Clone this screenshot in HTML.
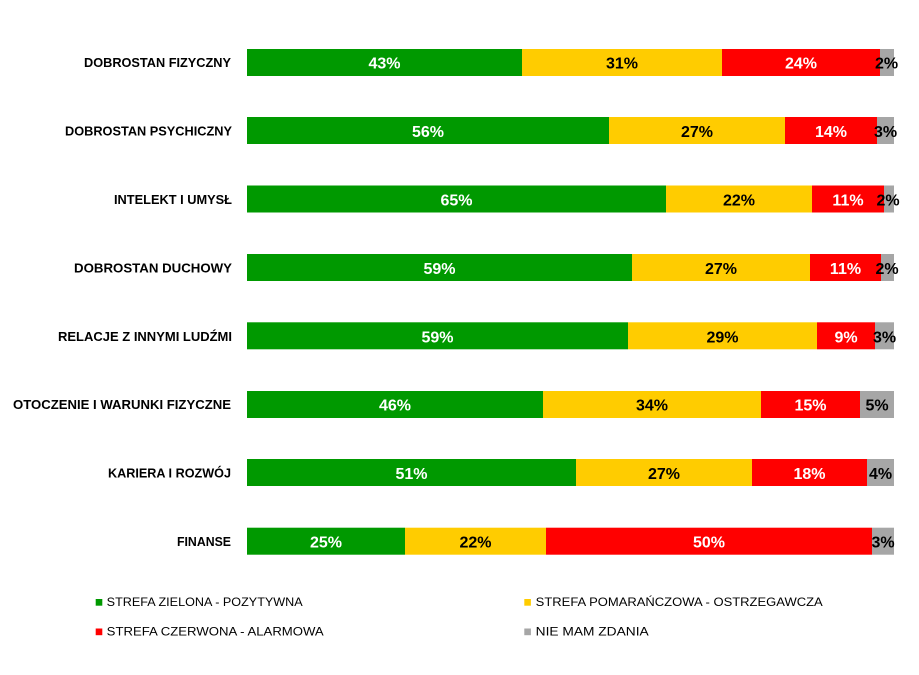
<!DOCTYPE html>
<html>
<head>
<meta charset="utf-8">
<style>
  html, body { margin: 0; padding: 0; background: #ffffff; }
  svg { display: block; }
  .cat { font-family: "Liberation Sans", sans-serif; font-weight: bold; font-size: 13px; fill: #000; }
  .lw { font-family: "Liberation Sans", sans-serif; font-weight: bold; font-size: 16px; fill: #fff; }
  .lb { font-family: "Liberation Sans", sans-serif; font-weight: bold; font-size: 16px; fill: #000; }
  .leg { font-family: "Liberation Sans", sans-serif; font-size: 12px; fill: #000; }
</style>
</head>
<body>
<svg width="919" height="675" viewBox="0 0 919 675" xmlns="http://www.w3.org/2000/svg">
  <rect x="0" y="0" width="919" height="675" fill="#ffffff"/>

  <!-- Bar 1: DOBROSTAN FIZYCZNY -->
  <g>
    <rect x="247" y="49" width="275" height="27" fill="#009900"/>
    <rect x="522" y="49" width="200" height="27" fill="#FFCC00"/>
    <rect x="722" y="49" width="158" height="27" fill="#FF0000"/>
    <rect x="880" y="49" width="14" height="27" fill="#A6A6A6"/>
    <text class="cat" x="231" y="67" text-anchor="end" textLength="147" lengthAdjust="spacingAndGlyphs">DOBROSTAN FIZYCZNY</text>
    <text class="lw" x="384.5" y="68.5" text-anchor="middle">43%</text>
    <text class="lb" x="622" y="68.5" text-anchor="middle">31%</text>
    <text class="lw" x="801" y="68.5" text-anchor="middle">24%</text>
    <text class="lb" x="886.5" y="68.5" text-anchor="middle">2%</text>
  </g>

  <!-- Bar 2: DOBROSTAN PSYCHICZNY -->
  <g>
    <rect x="247" y="117" width="362" height="27" fill="#009900"/>
    <rect x="609" y="117" width="176" height="27" fill="#FFCC00"/>
    <rect x="785" y="117" width="92" height="27" fill="#FF0000"/>
    <rect x="877" y="117" width="17" height="27" fill="#A6A6A6"/>
    <text class="cat" x="232" y="135.5" text-anchor="end" textLength="167" lengthAdjust="spacingAndGlyphs">DOBROSTAN PSYCHICZNY</text>
    <text class="lw" x="428" y="137" text-anchor="middle">56%</text>
    <text class="lb" x="697" y="137" text-anchor="middle">27%</text>
    <text class="lw" x="831" y="137" text-anchor="middle">14%</text>
    <text class="lb" x="885.5" y="137" text-anchor="middle">3%</text>
  </g>

  <!-- Bar 3: INTELEKT I UMYSŁ -->
  <g>
    <rect x="247" y="185.5" width="419" height="27" fill="#009900"/>
    <rect x="666" y="185.5" width="146" height="27" fill="#FFCC00"/>
    <rect x="812" y="185.5" width="72" height="27" fill="#FF0000"/>
    <rect x="884" y="185.5" width="10" height="27" fill="#A6A6A6"/>
    <text class="cat" x="232" y="204" text-anchor="end" textLength="118" lengthAdjust="spacingAndGlyphs">INTELEKT I UMYSŁ</text>
    <text class="lw" x="456.5" y="205.5" text-anchor="middle">65%</text>
    <text class="lb" x="739" y="205.5" text-anchor="middle">22%</text>
    <text class="lw" x="848" y="205.5" text-anchor="middle">11%</text>
    <text class="lb" x="888" y="205.5" text-anchor="middle">2%</text>
  </g>

  <!-- Bar 4: DOBROSTAN DUCHOWY -->
  <g>
    <rect x="247" y="254" width="385" height="27" fill="#009900"/>
    <rect x="632" y="254" width="178" height="27" fill="#FFCC00"/>
    <rect x="810" y="254" width="71" height="27" fill="#FF0000"/>
    <rect x="881" y="254" width="13" height="27" fill="#A6A6A6"/>
    <text class="cat" x="232" y="272.5" text-anchor="end" textLength="158" lengthAdjust="spacingAndGlyphs">DOBROSTAN DUCHOWY</text>
    <text class="lw" x="439.5" y="274" text-anchor="middle">59%</text>
    <text class="lb" x="721" y="274" text-anchor="middle">27%</text>
    <text class="lw" x="845.5" y="274" text-anchor="middle">11%</text>
    <text class="lb" x="887" y="274" text-anchor="middle">2%</text>
  </g>

  <!-- Bar 5: RELACJE Z INNYMI LUDŹMI -->
  <g>
    <rect x="247" y="322.3" width="381" height="27" fill="#009900"/>
    <rect x="628" y="322.3" width="189" height="27" fill="#FFCC00"/>
    <rect x="817" y="322.3" width="58" height="27" fill="#FF0000"/>
    <rect x="875" y="322.3" width="19" height="27" fill="#A6A6A6"/>
    <text class="cat" x="232" y="340.8" text-anchor="end" textLength="174" lengthAdjust="spacingAndGlyphs">RELACJE Z INNYMI LUDŹMI</text>
    <text class="lw" x="437.5" y="342.3" text-anchor="middle">59%</text>
    <text class="lb" x="722.5" y="342.3" text-anchor="middle">29%</text>
    <text class="lw" x="846" y="342.3" text-anchor="middle">9%</text>
    <text class="lb" x="884.5" y="342.3" text-anchor="middle">3%</text>
  </g>

  <!-- Bar 6: OTOCZENIE I WARUNKI FIZYCZNE -->
  <g>
    <rect x="247" y="391" width="296" height="27" fill="#009900"/>
    <rect x="543" y="391" width="218" height="27" fill="#FFCC00"/>
    <rect x="761" y="391" width="99" height="27" fill="#FF0000"/>
    <rect x="860" y="391" width="34" height="27" fill="#A6A6A6"/>
    <text class="cat" x="231" y="409" text-anchor="end" textLength="218" lengthAdjust="spacingAndGlyphs">OTOCZENIE  I WARUNKI FIZYCZNE</text>
    <text class="lw" x="395" y="410.5" text-anchor="middle">46%</text>
    <text class="lb" x="652" y="410.5" text-anchor="middle">34%</text>
    <text class="lw" x="810.5" y="410.5" text-anchor="middle">15%</text>
    <text class="lb" x="877" y="410.5" text-anchor="middle">5%</text>
  </g>

  <!-- Bar 7: KARIERA I ROZWÓJ -->
  <g>
    <rect x="247" y="459" width="329" height="27" fill="#009900"/>
    <rect x="576" y="459" width="176" height="27" fill="#FFCC00"/>
    <rect x="752" y="459" width="115" height="27" fill="#FF0000"/>
    <rect x="867" y="459" width="27" height="27" fill="#A6A6A6"/>
    <text class="cat" x="231" y="477.5" text-anchor="end" textLength="123" lengthAdjust="spacingAndGlyphs">KARIERA I ROZWÓJ</text>
    <text class="lw" x="411.5" y="479" text-anchor="middle">51%</text>
    <text class="lb" x="664" y="479" text-anchor="middle">27%</text>
    <text class="lw" x="809.5" y="479" text-anchor="middle">18%</text>
    <text class="lb" x="880.5" y="479" text-anchor="middle">4%</text>
  </g>

  <!-- Bar 8: FINANSE -->
  <g>
    <rect x="247" y="527.7" width="158" height="27" fill="#009900"/>
    <rect x="405" y="527.7" width="141" height="27" fill="#FFCC00"/>
    <rect x="546" y="527.7" width="326" height="27" fill="#FF0000"/>
    <rect x="872" y="527.7" width="22" height="27" fill="#A6A6A6"/>
    <text class="cat" x="231" y="546" text-anchor="end" textLength="54" lengthAdjust="spacingAndGlyphs">FINANSE</text>
    <text class="lw" x="326" y="547.5" text-anchor="middle">25%</text>
    <text class="lb" x="475.5" y="547.5" text-anchor="middle">22%</text>
    <text class="lw" x="709" y="547.5" text-anchor="middle">50%</text>
    <text class="lb" x="883" y="547.5" text-anchor="middle">3%</text>
  </g>

  <!-- Legend -->
  <rect x="95.7" y="599" width="6.6" height="6.7" fill="#009900"/>
  <text class="leg" x="106.7" y="606" textLength="196" lengthAdjust="spacingAndGlyphs">STREFA ZIELONA - POZYTYWNA</text>

  <rect x="524.3" y="599" width="6.6" height="6.7" fill="#FFCC00"/>
  <text class="leg" x="535.7" y="606" textLength="287" lengthAdjust="spacingAndGlyphs">STREFA POMARAŃCZOWA - OSTRZEGAWCZA</text>

  <rect x="95.7" y="628.5" width="6.6" height="6.7" fill="#FF0000"/>
  <text class="leg" x="106.7" y="635.7" textLength="217" lengthAdjust="spacingAndGlyphs">STREFA CZERWONA - ALARMOWA</text>

  <rect x="524.3" y="628.5" width="6.6" height="6.7" fill="#A6A6A6"/>
  <text class="leg" x="535.7" y="635.7" textLength="113" lengthAdjust="spacingAndGlyphs">NIE MAM ZDANIA</text>
</svg>
</body>
</html>
